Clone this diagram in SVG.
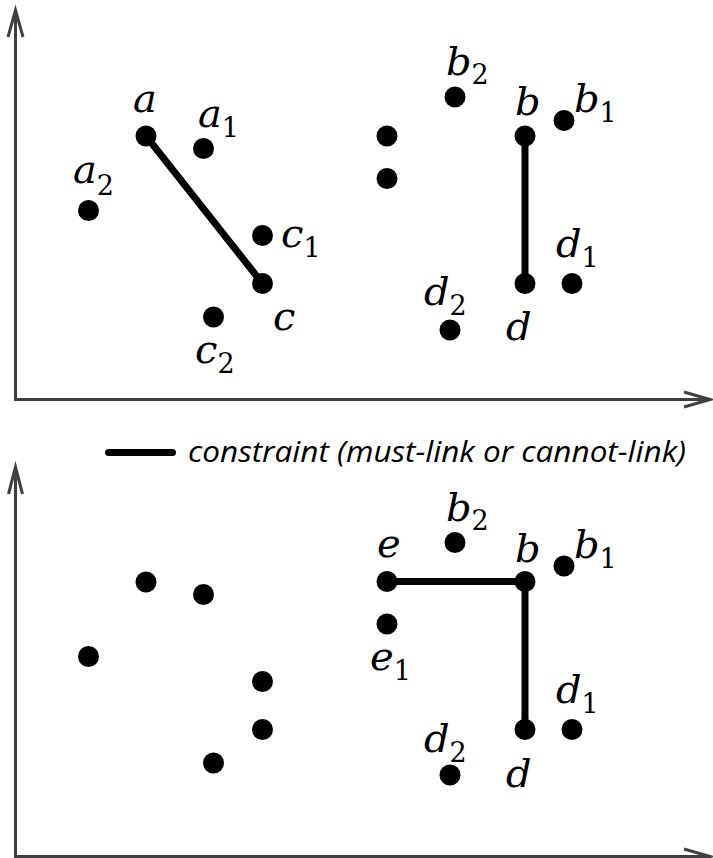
<svg xmlns="http://www.w3.org/2000/svg" width="713" height="858" viewBox="0 0 713 858">
  <style>
    .axis { fill: none; stroke: #404040; stroke-width: 3; stroke-linejoin: miter; }
    .pt { fill: #000; }
    .link { stroke: #000; stroke-width: 7; stroke-linecap: round; fill: none; }
    .lbl { font-family: "DejaVu Serif", "Liberation Serif", serif; font-style: italic; font-size: 40px; fill: #000; }
    .sub { font-style: normal; font-size: 27px; }
    .legend { font-family: "Open Sans", "Noto Sans", sans-serif; font-style: italic; font-size: 30px; fill: #000; }
  </style>
  <defs>
    <circle id="dot" r="10.5" class="pt"/>
  </defs>

  <!-- axes: upper plot -->
  <g id="axes-top">
    <line class="axis" x1="15.5" y1="401" x2="15.5" y2="11"/>
    <polyline class="axis" points="8,37 15.5,10 23,37"/>
    <line class="axis" x1="14" y1="399.5" x2="709" y2="399.5"/>
    <polyline class="axis" points="684,392 710,399.5 684,407"/>
  </g>

  <!-- axes: lower plot -->
  <g id="axes-bottom">
    <line class="axis" x1="15.5" y1="858" x2="15.5" y2="468"/>
    <polyline class="axis" points="8.5,494 15.5,467 22.5,494"/>
    <line class="axis" x1="14" y1="856.5" x2="709" y2="856.5"/>
    <polyline class="axis" points="684,849 710,856.5 684,864"/>
  </g>

  <!-- constraints -->
  <g id="connectors">
    <line class="link" x1="146" y1="136" x2="262.5" y2="283.5"/>
    <line class="link" x1="525" y1="136" x2="525" y2="283.5"/>
    <line class="link" x1="387" y1="581.5" x2="525" y2="581.5"/>
    <line class="link" x1="525" y1="581.5" x2="525" y2="729.5"/>
  </g>

  <!-- upper plot points -->
  <g id="top-a"><use href="#dot" x="146" y="136"/><text class="lbl" x="133" y="112">a</text></g>
  <g id="top-a1"><use href="#dot" x="203.5" y="148.5"/><text class="lbl" x="198" y="127">a<tspan class="sub" y="137">1</tspan></text></g>
  <g id="top-a2"><use href="#dot" x="88.5" y="210.5"/><text class="lbl" x="73" y="183">a<tspan class="sub" y="195">2</tspan></text></g>
  <g id="top-c1"><use href="#dot" x="262.5" y="235.5"/><text class="lbl" x="281" y="247">c<tspan class="sub" y="257">1</tspan></text></g>
  <g id="top-c"><use href="#dot" x="262.5" y="283.5"/><text class="lbl" x="273" y="330">c</text></g>
  <g id="top-c2"><use href="#dot" x="213.5" y="317"/><text class="lbl" x="195" y="363">c<tspan class="sub" y="373">2</tspan></text></g>
  <g id="top-p1"><use href="#dot" x="387" y="136"/></g>
  <g id="top-p2"><use href="#dot" x="387" y="178.5"/></g>
  <g id="top-b2"><use href="#dot" x="455" y="97"/><text class="lbl" x="446" y="75">b<tspan class="sub" y="84">2</tspan></text></g>
  <g id="top-b"><use href="#dot" x="525" y="136"/><text class="lbl" x="515" y="115">b</text></g>
  <g id="top-b1"><use href="#dot" x="564" y="120.5"/><text class="lbl" x="574" y="112">b<tspan class="sub" y="122">1</tspan></text></g>
  <g id="top-d1"><use href="#dot" x="572" y="283.5"/><text class="lbl" x="556" y="257">d<tspan class="sub" y="267">1</tspan></text></g>
  <g id="top-d"><use href="#dot" x="525" y="283.5"/><text class="lbl" x="506" y="340">d</text></g>
  <g id="top-d2"><use href="#dot" x="450" y="330"/><text class="lbl" x="424" y="305">d<tspan class="sub" y="315">2</tspan></text></g>

  <!-- legend -->
  <g id="legend">
    <line class="link" x1="108.5" y1="452.5" x2="172.5" y2="452.5"/>
    <text class="legend" x="188" y="462" textLength="498" lengthAdjust="spacingAndGlyphs">constraint (must-link or cannot-link)</text>
  </g>

  <!-- lower plot points -->
  <g id="bot-p1"><use href="#dot" x="146" y="582"/></g>
  <g id="bot-p2"><use href="#dot" x="203.5" y="594.5"/></g>
  <g id="bot-p3"><use href="#dot" x="88.5" y="656.5"/></g>
  <g id="bot-p4"><use href="#dot" x="262.5" y="681.5"/></g>
  <g id="bot-p5"><use href="#dot" x="262.5" y="729.5"/></g>
  <g id="bot-p6"><use href="#dot" x="213.5" y="763"/></g>
  <g id="bot-e"><use href="#dot" x="387" y="581.5"/><text class="lbl" x="377" y="557">e</text></g>
  <g id="bot-e1"><use href="#dot" x="387" y="624"/><text class="lbl" x="370" y="670">e<tspan class="sub" y="680">1</tspan></text></g>
  <g id="bot-b2"><use href="#dot" x="455" y="542.5"/><text class="lbl" x="446" y="521">b<tspan class="sub" y="530">2</tspan></text></g>
  <g id="bot-b"><use href="#dot" x="525" y="581.5"/><text class="lbl" x="515" y="562">b</text></g>
  <g id="bot-b1"><use href="#dot" x="564" y="566"/><text class="lbl" x="574" y="558">b<tspan class="sub" y="568">1</tspan></text></g>
  <g id="bot-d1"><use href="#dot" x="572" y="729.5"/><text class="lbl" x="556" y="703">d<tspan class="sub" y="713">1</tspan></text></g>
  <g id="bot-d"><use href="#dot" x="525" y="729.5"/><text class="lbl" x="506" y="787">d</text></g>
  <g id="bot-d2"><use href="#dot" x="450" y="775"/><text class="lbl" x="424" y="752">d<tspan class="sub" y="762">2</tspan></text></g>
</svg>
